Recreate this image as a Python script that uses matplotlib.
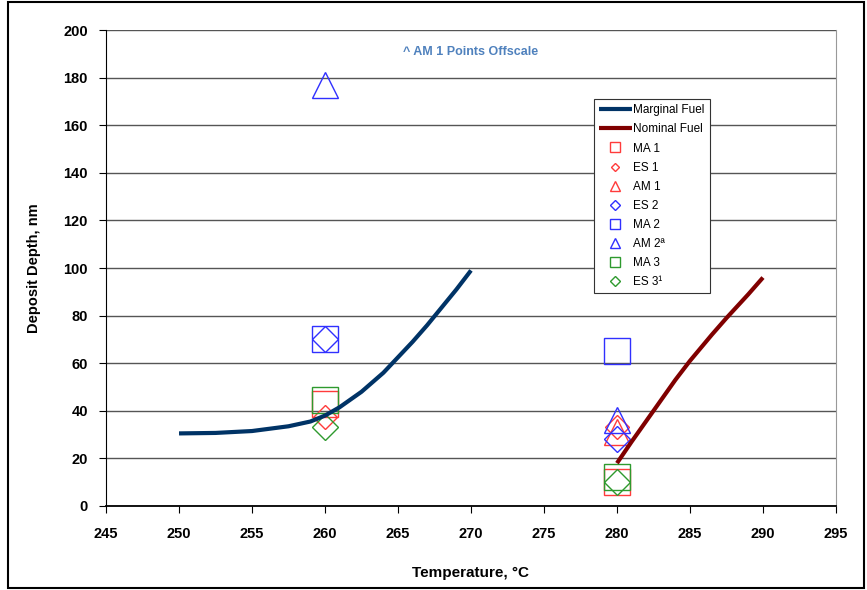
import numpy as np
import matplotlib.pyplot as plt
from matplotlib.patches import Rectangle

plt.rcParams["font.family"] = ["Liberation Sans", "DejaVu Sans"]

# -------------------------
# Data
# -------------------------
temp_marginal = [250, 252.5, 255, 257.5, 259, 260, 261, 262.5, 264, 265,
                 266, 267, 268, 269, 270]
depth_marginal = [30.5, 30.7, 31.5, 33.5, 35.5, 38, 41.5, 48, 56, 62.5,
                  69, 76, 83.5, 91, 99]

temp_nominal = [280, 281, 282.5, 284, 285, 286.5, 287.5, 289, 290]
depth_nominal = [18, 27, 40, 53, 61, 72, 79, 89, 96]

temp_points = [260, 280]
ma1 = [43, 10]
es1 = [37.5, 33]
am1 = [np.nan, 31]  # 260 offscale
es2 = [70, 28]
ma2 = [70, 65]
am2 = [177, 36]
ma3 = [44.5, 12]
es3 = [33, 10]

red = "#FF3B3B"
blue = "#3030FF"
green = "#2E9A2E"

# -------------------------
# Plot
# -------------------------
fig = plt.figure(figsize=(8.67, 5.90), dpi=100)
ax = fig.add_axes([0.1223, 0.1424, 0.9642 - 0.1223, 0.949 - 0.1424])

series = [
    ("MA 1", ma1, "s", red, 18.5),
    ("ES 1", es1, "D", red, 12),
    ("AM 1", am1, "^", red, 18.5),
    ("ES 2", es2, "D", blue, 13),
    ("MA 2", ma2, "s", blue, 18.5),
    ("AM 2\u00aa", am2, "^", blue, 18.5),
    ("MA 3", ma3, "s", green, 18.5),
    ("ES 3\u00b9", es3, "D", green, 13),
]

handles = []
h1, = ax.plot(temp_marginal, depth_marginal, color="#003366", lw=3,
              label="Marginal Fuel", zorder=4, solid_capstyle="butt")
h2, = ax.plot(temp_nominal, depth_nominal, color="#800000", lw=3,
              label="Nominal Fuel", zorder=4, solid_capstyle="butt")
handles += [h1, h2]
for name, vals, mk, col, ms in series:
    h, = ax.plot(temp_points, vals, ls="none", marker=mk, ms=ms,
                 mfc="none", mec=col, mew=1.0, label=name, zorder=3)
    handles.append(h)

ax.set_xlim(245, 295)
ax.set_ylim(0, 200)
ax.set_xticks(np.arange(245, 296, 5))
ax.set_yticks(np.arange(0, 201, 20))
ax.yaxis.grid(True, color="#555555", lw=1)
ax.set_axisbelow(True)
for lab in ax.get_xticklabels() + ax.get_yticklabels():
    lab.set_fontweight("bold")
ax.tick_params(axis="both", direction="out", length=5, labelsize=10.5,
               color="black")
ax.tick_params(axis="x", pad=10)
ax.tick_params(axis="y", pad=8)
ax.spines["top"].set_visible(False)
ax.spines["right"].set_color("#999999")
ax.spines["left"].set_color("black")
ax.spines["bottom"].set_color("black")
ax.spines["bottom"].set_linewidth(1.3)

ax.set_xlabel("Temperature, \u00b0C", fontweight="bold", fontsize=11,
              labelpad=18)
ax.set_ylabel("Deposit Depth, nm", fontweight="bold", fontsize=10.5,
              labelpad=16)

ax.text(0.5, 0.955, "^ AM 1 Points Offscale", transform=ax.transAxes,
        ha="center", va="center", color="#4F81BD", fontweight="bold",
        fontsize=9)

leg = ax.legend(handles=handles, loc="upper left",
                bbox_to_anchor=(0.668, 0.855), fontsize=8.5, markerscale=0.36,
                frameon=True, fancybox=False, edgecolor="#333333",
                framealpha=1, handlelength=2.8, handletextpad=0.1,
                labelspacing=0.6, borderpad=0.45, borderaxespad=0)
leg.get_frame().set_linewidth(0.8)

# outer chart border
fig.patches.append(Rectangle((8 / 867, 2 / 590), 856 / 867, 586 / 590,
                             transform=fig.transFigure, fill=False,
                             edgecolor="black", lw=1.5))

fig.savefig("out.png", dpi=100)
